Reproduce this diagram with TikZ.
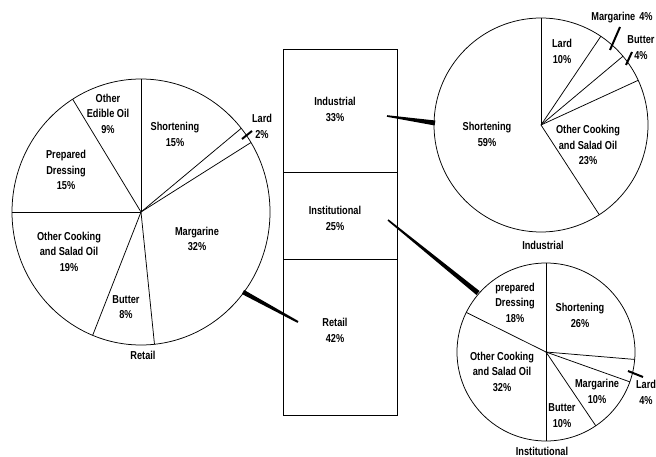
\documentclass[tikz,border=0pt]{standalone}
\usepackage{fontspec}
\setmainfont{Liberation Sans}[FakeStretch=0.8]
\usetikzlibrary{calc}
\tikzset{
  lbl/.style={font=\fontsize{11.5}{15.5}\selectfont\bfseries, align=center, inner sep=0pt},
  piestroke/.style={line width=0.75pt},
  ptr/.style={line width=2pt},
  secbox/.style={draw, line width=1pt, minimum width=114pt, inner sep=0pt, anchor=north west}
}
\newcommand\taperline[4]{\fill ($(#1)!#3!90:(#2)$) -- ($(#2)!#4!-90:(#1)$) -- ($(#2)!#4!90:(#1)$) -- ($(#1)!#3!-90:(#2)$) -- cycle;}
\begin{document}
\begin{tikzpicture}[x=1pt,y=1pt]
\useasboundingbox (0,0) rectangle (656,456);
% ---------- central bar ----------
\node[secbox, minimum height=123pt] (ind) at (283,407) {};
\node[secbox, minimum height=87pt] (ins) at (283,284) {};
\node[secbox, minimum height=156pt] (ret) at (283,197) {};
\node[lbl] (indt) at (335,346.5) {Industrial\\33\%};
\node[lbl] (inst) at (335,237.5) {Institutional\\25\%};
\node[lbl] (rett) at (335,125.5) {Retail\\42\%};
% ---------- Retail pie ----------
\coordinate (L) at (141,244);
\draw[piestroke] (L) ellipse [x radius=129, y radius=133];
\foreach \a in {90,39,31.5,-84,-112,180,122}
  \draw[piestroke] (L) -- ($(L)+(\a:129 and 133)$);
\node[lbl] (l1) at (108,342.5) {\fontsize{11.5}{13.5}\selectfont Other\\Edible Oil\\9\%};
\node[lbl] (l2) at (175,321.5) {Shortening\\15\%};
\node[lbl] (l3) at (66,286) {Prepared\\Dressing\\15\%};
\node[lbl] (l4) at (69,204.5) {Other Cooking\\and Salad Oil\\19\%};
\node[lbl] (l5) at (197,217) {Margarine\\32\%};
\node[lbl] (l6) at (126,149) {Butter\\8\%};
\node[lbl] (l7) at (262,329.5) {\fontsize{11.5}{13}\selectfont Lard\\2\%};
\node[lbl] (l8) at (143,101) {Retail};
\coordinate (lp1) at (242,317);
\coordinate (lp2) at (252,325);
\draw[ptr] (lp1) -- (lp2);
% ---------- Industrial pie ----------
\coordinate (I) at (541,331);
\draw[piestroke] (I) circle [radius=107];
\foreach \a in {90,56,40,24.7,-57}
  \draw[piestroke] (I) -- ($(I)+(\a:107)$);
\node[lbl] (i1) at (562,404.5) {\fontsize{11.5}{16.5}\selectfont Lard\\10\%};
\node[lbl] (i2) at (487,321.5) {Shortening\\59\%};
\node[lbl] (i3) at (588,311) {Other Cooking\\and Salad Oil\\23\%};
\node[lbl] (i4) at (622,438) {Margarine\hspace{4pt}4\%};
\node[lbl] (i5) at (641,408.5) {Butter\\4\%};
\node[lbl] (i6) at (543,211) {Industrial};
\coordinate (ip1) at (610,406);
\coordinate (ip2) at (620,429);
\draw[ptr] (ip1) -- (ip2);
\coordinate (ip3) at (626,391);
\coordinate (ip4) at (632,404);
\draw[ptr] (ip3) -- (ip4);
% ---------- Institutional pie ----------
\coordinate (N) at (546,104);
\draw[piestroke] (N) circle [radius=89];
\foreach \a in {90,-4.8,-19.6,-56,-90,153.6}
  \draw[piestroke] (N) -- ($(N)+(\a:89)$);
\node[lbl] (n1) at (515,153.5) {prepared\\Dressing\\18\%};
\node[lbl] (n2) at (580,140.5) {Shortening\\26\%};
\node[lbl] (n3) at (502,84.5) {Other Cooking\\and Salad Oil\\32\%};
\node[lbl] (n4) at (597,64.5) {Margarine\\10\%};
\node[lbl] (n5) at (562,40.5) {Butter\\10\%};
\node[lbl] (n6) at (646,63.5) {Lard\\4\%};
\node[lbl] (n7) at (542,5) {Institutional};
\coordinate (np1) at (628,85);
\coordinate (np2) at (643,79);
\draw[ptr] (np1) -- (np2);
% ---------- connectors ----------
\coordinate (rc1) at (243,164);
\coordinate (rc2) at (298,134);
\taperline{rc1}{rc2}{2.3pt}{1pt}
\coordinate (ic1) at (387,340);
\coordinate (ic2) at (435,333);
\taperline{ic1}{ic2}{0.8pt}{2.5pt}
\coordinate (nc1) at (388,236);
\coordinate (nc2) at (478,163);
\taperline{nc1}{nc2}{0.8pt}{2.5pt}
\end{tikzpicture}
\end{document}
